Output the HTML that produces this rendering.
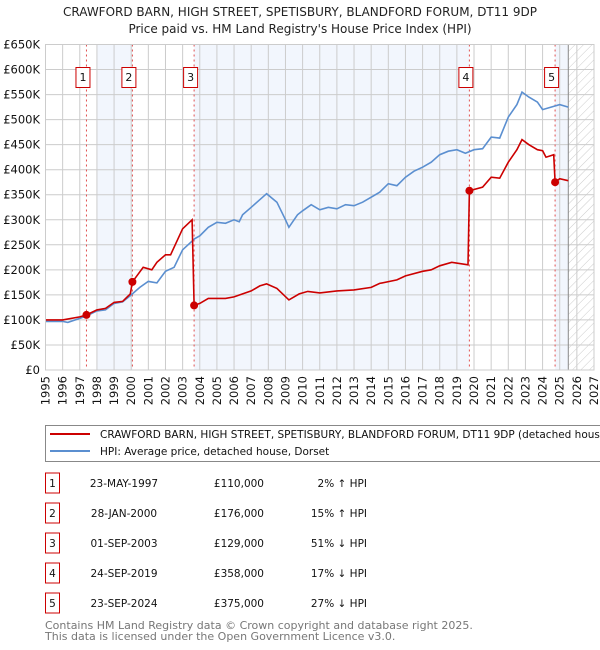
<!DOCTYPE html>
<html><head><meta charset="utf-8"><style>
body{margin:0;background:#fff;}
svg{display:block;font-family:"DejaVu Sans","Liberation Sans",sans-serif;}
</style></head><body>
<svg id="c" width="600" height="650" viewBox="0 0 600 650">
<defs><pattern id="hatch" width="6" height="6" patternUnits="userSpaceOnUse" patternTransform="rotate(45)"><line x1="0" y1="0" x2="0" y2="6" stroke="#ccc" stroke-width="1"/></pattern></defs>
<text x="300" y="16" text-anchor="middle" font-size="12" fill="#222">CRAWFORD BARN, HIGH STREET, SPETISBURY, BLANDFORD FORUM, DT11 9DP</text>
<text x="300" y="33" text-anchor="middle" font-size="12" fill="#222">Price paid vs. HM Land Registry's House Price Index (HPI)</text>
<g id="plot"></g>
<g>
<rect x="45.5" y="425.5" width="570" height="36" fill="#fff" stroke="#888"/>
<line x1="50" y1="434" x2="90" y2="434" stroke="#cc0000" stroke-width="2"/>
<text x="100" y="438" font-size="10.5" fill="#111">CRAWFORD BARN, HIGH STREET, SPETISBURY, BLANDFORD FORUM, DT11 9DP (detached house)</text>
<line x1="50" y1="451" x2="90" y2="451" stroke="#5b8fd0" stroke-width="2"/>
<text x="100" y="455" font-size="10.5" fill="#111">HPI: Average price, detached house, Dorset</text>
</g>
<g id="table" font-size="10.5" fill="#111"></g>
<text x="45" y="629" font-size="11" fill="#777">Contains HM Land Registry data © Crown copyright and database right 2025.</text>
<text x="45" y="640" font-size="11" fill="#777">This data is licensed under the Open Government Licence v3.0.</text>
</svg>
<script>
const yTicks=[0,50,100,150,200,250,300,350,400,450,500,550,600,650];
const yTickLabels=["£0","£50K","£100K","£150K","£200K","£250K","£300K","£350K","£400K","£450K","£500K","£550K","£600K","£650K"];
const xYears=[1995,1996,1997,1998,1999,2000,2001,2002,2003,2004,2005,2006,2007,2008,2009,2010,2011,2012,2013,2014,2015,2016,2017,2018,2019,2020,2021,2022,2023,2024,2025,2026,2027];
const hpiT=[1995,1996,1996.3,1997,1997.4,1998,1998.5,1999,1999.5,2000,2000.5,2001,2001.5,2002,2002.5,2003,2003.7,2004,2004.5,2005,2005.5,2006,2006.3,2006.5,2007,2007.5,2007.9,2008.5,2009,2009.2,2009.7,2010,2010.5,2011,2011.5,2012,2012.5,2013,2013.5,2014,2014.5,2015,2015.5,2016,2016.5,2017,2017.5,2018,2018.5,2019,2019.5,2020,2020.5,2021,2021.5,2022,2022.5,2022.8,2023.2,2023.7,2024,2024.5,2025,2025.5];
const hpiV=[97,97,95,103,108,118,120,133,136,150,165,177,174,197,205,240,262,268,285,295,293,300,296,310,325,340,352,335,300,285,310,318,330,320,325,322,330,328,335,345,355,372,368,385,397,405,415,430,437,440,433,440,442,465,463,505,530,555,545,535,520,525,530,525];
const redT=[1995,1996,1997,1997.39,1998,1998.5,1999,1999.5,1999.95,2000.07,2000.7,2001.2,2001.5,2002,2002.3,2003,2003.55,2003.67,2004,2004.5,2005.5,2006,2007,2007.5,2007.9,2008.5,2009.2,2009.8,2010.3,2011,2012,2013,2014,2014.5,2015.5,2016,2017,2017.5,2018,2018.7,2019.65,2019.73,2020.5,2021,2021.5,2022,2022.5,2022.8,2023.2,2023.7,2024,2024.2,2024.65,2024.73,2025,2025.5];
const redV=[100,100,106,110,120,123,135,137,152,176,205,200,215,230,230,282,300,129,133,143,143,146,158,168,172,163,140,152,157,154,158,160,165,173,180,188,197,200,208,215,210,358,365,385,383,415,440,460,450,440,438,425,430,375,382,378];
const saleLabels=["1","2","3","4","5"];
const saleT=[1997.39,2000.07,2003.67,2019.73,2024.73];
const saleV=[110,176,129,358,375];
const saleDates=["23-MAY-1997","28-JAN-2000","01-SEP-2003","24-SEP-2019","23-SEP-2024"];
const salePrices=["£110,000","£176,000","£129,000","£358,000","£375,000"];
const saleHpi=["2% ↑ HPI","15% ↑ HPI","51% ↓ HPI","17% ↓ HPI","27% ↓ HPI"];

const X0=45.5,X1=594,Y0=370,Y1=44.5;
const xs=t=>X0+(t-1995)/(2027-1995)*(X1-X0);
const ys=v=>Y0-v/650*(Y0-Y1);
const NS="http://www.w3.org/2000/svg";
const plot=document.getElementById('plot');
function mk(tag,at,parent){const e=document.createElementNS(NS,tag);for(const k in at)e.setAttribute(k,at[k]);(parent||plot).appendChild(e);return e;}

let e=mk('rect',{x:X0,y:Y1,width:X1-X0,height:Y0-Y1,fill:'#fff'});


const bands=[[1998,2000.07],[2003.67,2019.73],[2024.73,2025.5]];
bands.forEach(b=>{const r=mk('rect',{x:xs(b[0]),y:Y1,width:xs(b[1])-xs(b[0]),height:Y0-Y1,fill:'#eef3fc',opacity:0.75});

});
e=mk('rect',{x:xs(2025.5),y:Y1,width:X1-xs(2025.5),height:Y0-Y1,fill:'url(#hatch)'});


yTicks.forEach((v,i)=>{const l=mk('line',{x1:X0,x2:X1,y1:ys(v),y2:ys(v),stroke:'#ccc','stroke-width':1});


const t=mk('text',{x:40,y:ys(v)+4,'text-anchor':'end','font-size':11.5,fill:'#111'});t.textContent=yTickLabels[i];

});
xYears.forEach(y=>{const l=mk('line',{x1:xs(y),x2:xs(y),y1:Y1,y2:Y0,stroke:'#ccc','stroke-width':1});


const t=mk('text',{x:0,y:0,'text-anchor':'end','font-size':11.5,fill:'#111',transform:`translate(${xs(y)+4},376) rotate(-90)`});t.textContent=y;

});
e=mk('line',{x1:xs(2025.5),x2:xs(2025.5),y1:Y1,y2:Y0,stroke:'#888','stroke-width':1});


saleT.forEach((t,i)=>{const l=mk('line',{x1:xs(t),x2:xs(t),y1:Y1,y2:Y0,stroke:'#e05050','stroke-width':1,'stroke-dasharray':'2,3'});

});
const path=(T,V)=>T.map((t,i)=>(i?'L':'M')+xs(t).toFixed(1)+','+ys(V[i]).toFixed(1)).join('');
e=mk('path',{d:path(hpiT,hpiV),fill:'none',stroke:'#5b8fd0','stroke-width':1.6});


e=mk('path',{d:path(redT,redV),fill:'none',stroke:'#cc0000','stroke-width':1.6});


saleT.forEach((t,i)=>{const c=mk('circle',{cx:xs(t),cy:ys(saleV[i]),r:4,fill:'#cc0000'});


const g=mk('g',{});


mk('rect',{x:xs(t)-10.5,y:67.5,width:14,height:20,fill:'#fff',stroke:'#cc0000'},g);
const tx=mk('text',{x:xs(t)-3.5,y:81,'text-anchor':'middle','font-size':11,fill:'#111'},g);tx.textContent=saleLabels[i];});
e=mk('rect',{x:X0,y:Y1,width:X1-X0,height:Y0-Y1,fill:'none',stroke:'#ccc'});



const tb=document.getElementById('table');
saleLabels.forEach((s,i)=>{const y=483+i*30;
const g=mk('g',{},tb);


mk('rect',{x:45.5,y:y-10,width:14,height:20,fill:'#fff',stroke:'#cc0000'},g);
let t=mk('text',{x:52.5,y:y+4,'text-anchor':'middle'},g);t.textContent=s;
t=mk('text',{x:124,y:y+4,'text-anchor':'middle'},g);t.textContent=saleDates[i];
t=mk('text',{x:264,y:y+4,'text-anchor':'end'},g);t.textContent=salePrices[i];
t=mk('text',{x:367,y:y+4,'text-anchor':'end'},g);t.textContent=saleHpi[i];});
</script>
</body></html>
